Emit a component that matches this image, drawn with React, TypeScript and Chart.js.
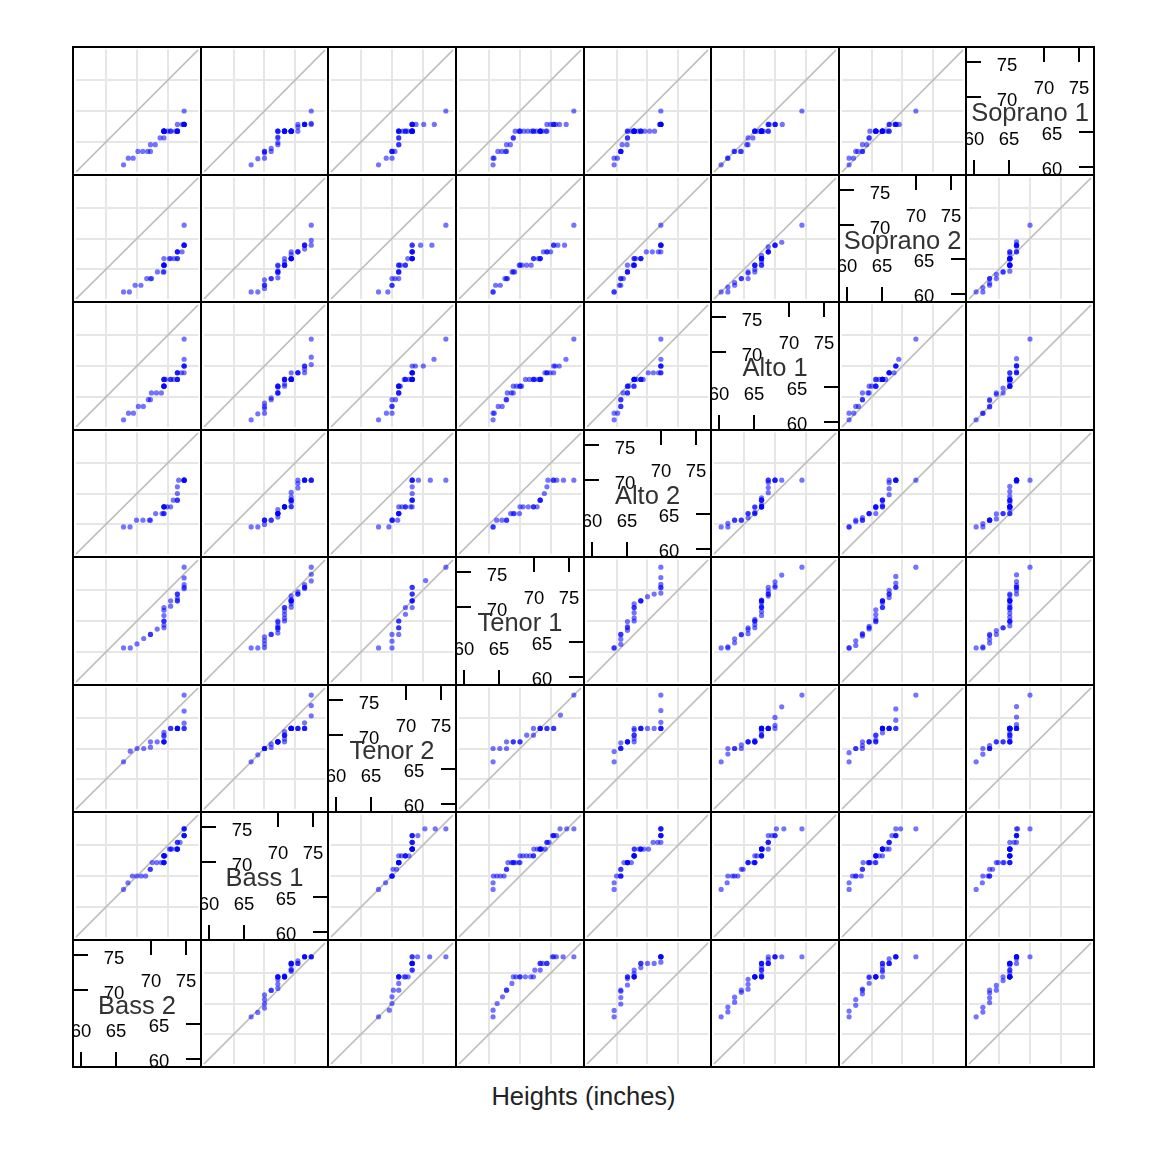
import React, { useEffect, useRef } from "react";
import { Chart, registerables } from "chart.js";

Chart.register(...registerables);

// ---- Data (sorted heights in inches, per voice part) ----
const VOICE_PARTS = ["Bass 2", "Bass 1", "Tenor 2", "Tenor 1", "Alto 2", "Alto 1", "Soprano 2", "Soprano 1"];

const BASS_2 = [66, 67, 68, 69, 70, 70, 71, 72, 72, 72, 72, 72, 72, 72, 73, 73, 74, 74, 74, 74, 74, 75, 75, 75, 75, 75];
const BASS_1 = [66, 67, 68, 68, 68, 68, 69, 69, 70, 70, 70, 70, 70, 70, 70, 71, 71, 71, 71, 71, 71, 72, 72, 72, 72, 72, 72, 72, 72, 73, 73, 73, 74, 74, 74, 74, 75, 75, 75];
const TENOR_2 = [66, 68, 68, 68, 69, 69, 69, 69, 69, 70, 70, 71, 71, 71, 71, 71, 71, 71, 71, 73, 76];
const TENOR_1 = [64, 64, 65, 66, 66, 67, 67, 68, 68, 69, 70, 70, 71, 71, 71, 72, 72, 73, 73, 74, 76];
const ALTO_2 = [63, 63, 64, 64, 64, 64, 65, 65, 65, 65, 66, 66, 66, 66, 66, 66, 67, 67, 67, 68, 69, 70, 70, 70, 70, 70, 70];
const ALTO_1 = [60, 61, 61, 62, 62, 63, 63, 64, 64, 64, 65, 65, 65, 65, 65, 66, 66, 66, 66, 66, 66, 66, 66, 66, 66, 67, 67, 67, 67, 67, 68, 68, 68, 69, 72];
const SOPRANO_2 = [60, 60, 61, 61, 62, 62, 62, 63, 63, 63, 64, 64, 64, 64, 64, 65, 65, 65, 65, 65, 65, 66, 66, 66, 66, 67, 67, 67, 67, 70];
const SOPRANO_1 = [60, 61, 61, 62, 62, 62, 62, 63, 63, 64, 64, 65, 65, 65, 65, 65, 65, 65, 65, 65, 65, 65, 65, 65, 65, 65, 65, 65, 66, 66, 66, 66, 66, 66, 66, 68];

const HEIGHTS = [BASS_2, BASS_1, TENOR_2, TENOR_1, ALTO_2, ALTO_1, SOPRANO_2, SOPRANO_1];

const LOWER_TICKS = [60, 65];
const UPPER_TICKS = [70, 75];
const X_LABEL = "Heights (inches)";

// ---- Derived scale limits (lattice-style 7% extension) ----
const ALL = HEIGHTS.flat();
const DMIN = Math.min(...ALL);
const DMAX = Math.max(...ALL);
const EXT = (DMAX - DMIN) * 0.07;
const LIM_MIN = DMIN - EXT;
const LIM_MAX = DMAX + EXT;
const GRID_VALUES = [1, 2, 3].map((k) => LIM_MIN + (k * (LIM_MAX - LIM_MIN)) / 4);

// ---- Styling / layout ----
const FONT = "'Liberation Sans', Arial, Helvetica, sans-serif";
const N = VOICE_PARTS.length;
const X0 = 73;
const Y0 = 47;
const STEP_X = 127.625;
const STEP_Y = 127.5;
const xEdge = (c: number) => Math.round(X0 + c * STEP_X);
const yEdge = (r: number) => Math.round(Y0 + r * STEP_Y);

function quantile(sorted: number[], p: number) {
  const n = sorted.length;
  const h = (n - 1) * p;
  const lo = Math.floor(h);
  const hi = Math.min(lo + 1, n - 1);
  return sorted[lo] + (h - lo) * (sorted[hi] - sorted[lo]);
}

function qqPairs(xs: number[], ys: number[]) {
  const n = Math.max(xs.length, ys.length);
  const out: { x: number; y: number }[] = [];
  for (let i = 0; i < n; i++) {
    const p = i / (n - 1);
    out.push({ x: quantile(xs, p), y: quantile(ys, p) });
  }
  return out;
}

const borderPlugin = {
  id: "panelBorder",
  afterDraw(chart: any) {
    const { ctx, width, height } = chart;
    ctx.save();
    ctx.strokeStyle = "#000";
    ctx.lineWidth = 1;
    ctx.strokeRect(0.5, 0.5, width - 1, height - 1);
    ctx.restore();
  },
};

const TICK_LEN = 15;

function makeDiagPlugin(name: string) {
  return {
    id: "diagPanel",
    afterDraw(chart: any) {
      const { ctx, width: w, height: h } = chart;
      const xs = chart.scales.x;
      const ys = chart.scales.y;
      ctx.save();
      ctx.strokeStyle = "#000";
      ctx.lineWidth = 2;
      ctx.fillStyle = "#000";
      ctx.font = `18.5px ${FONT}`;
      ctx.textAlign = "center";
      ctx.textBaseline = "middle";
      // top: upper ticks
      UPPER_TICKS.forEach((v) => {
        const x = Math.round(xs.getPixelForValue(v));
        ctx.beginPath();
        ctx.moveTo(x, 0);
        ctx.lineTo(x, TICK_LEN);
        ctx.stroke();
        ctx.fillText(String(v), x, 42);
      });
      // bottom: lower ticks
      LOWER_TICKS.forEach((v) => {
        const x = Math.round(xs.getPixelForValue(v));
        ctx.beginPath();
        ctx.moveTo(x, h);
        ctx.lineTo(x, h - TICK_LEN);
        ctx.stroke();
        ctx.fillText(String(v), x, h - 35);
      });
      // left: upper ticks
      UPPER_TICKS.forEach((v) => {
        const y = Math.round(ys.getPixelForValue(v));
        ctx.beginPath();
        ctx.moveTo(0, y);
        ctx.lineTo(TICK_LEN, y);
        ctx.stroke();
        ctx.fillText(String(v), 41, y + 4);
      });
      // right: lower ticks
      LOWER_TICKS.forEach((v) => {
        const y = Math.round(ys.getPixelForValue(v));
        ctx.beginPath();
        ctx.moveTo(w, y);
        ctx.lineTo(w - TICK_LEN, y);
        ctx.stroke();
        ctx.fillText(String(v), w - 42, y + 3);
      });
      ctx.fillStyle = "#333";
      ctx.font = `25.5px ${FONT}`;
      ctx.fillText(name, w / 2, h / 2 + 3);
      ctx.restore();
    },
  };
}

function Panel({ row, col }: { row: number; col: number }) {
  const ref = useRef<HTMLCanvasElement>(null);
  const left = xEdge(col);
  const top = yEdge(row);
  const width = xEdge(col + 1) - left;
  const height = yEdge(row + 1) - top;

  useEffect(() => {
    const canvas = ref.current;
    if (!canvas) return;
    const xi = col;
    const yi = N - 1 - row;
    const diag = xi === yi;

    const axis = (isDiag: boolean) => ({
      type: "linear" as const,
      min: LIM_MIN,
      max: LIM_MAX,
      afterBuildTicks: (s: any) => {
        s.ticks = GRID_VALUES.map((v) => ({ value: v }));
      },
      ticks: { display: false },
      grid: { display: !isDiag, color: "#e6e6e6", lineWidth: 2, drawTicks: false },
      border: { display: false },
      title: { display: false },
    });

    const datasets: any[] = diag
      ? []
      : [
          {
            type: "scatter",
            data: qqPairs(HEIGHTS[xi], HEIGHTS[yi]),
            pointRadius: 2.6,
            pointHoverRadius: 2.6,
            pointBackgroundColor: "rgba(0,0,255,0.55)",
            pointBorderWidth: 0,
            pointBorderColor: "rgba(0,0,0,0)",
            showLine: false,
          },
          {
            type: "line",
            data: [
              { x: LIM_MIN, y: LIM_MIN },
              { x: LIM_MAX, y: LIM_MAX },
            ],
            borderColor: "#bdbdbd",
            borderWidth: 1.5,
            pointRadius: 0,
            fill: false,
          },
        ];

    const chart = new Chart(canvas, {
      type: "scatter",
      data: { datasets },
      options: {
        responsive: false,
        maintainAspectRatio: false,
        animation: false,
        events: [],
        layout: { padding: 0 },
        plugins: { legend: { display: false }, tooltip: { enabled: false } },
        scales: { x: axis(diag), y: axis(diag) },
      },
      plugins: diag ? [makeDiagPlugin(VOICE_PARTS[xi]), borderPlugin] : [borderPlugin],
    } as any);
    return () => chart.destroy();
  }, [row, col]);

  return (
    <canvas
      ref={ref}
      width={width}
      height={height}
      style={{ position: "absolute", left: left - 8, top: top - 8, width, height, display: "block" }}
    />
  );
}

export default function App() {
  const panels: React.ReactNode[] = [];
  for (let r = 0; r < N; r++) {
    for (let c = 0; c < N; c++) {
      panels.push(<Panel key={`${r}-${c}`} row={r} col={c} />);
    }
  }
  const gridLeft = xEdge(0);
  const gridTop = yEdge(0);
  const gridRight = xEdge(N);
  const gridBottom = yEdge(N);
  return (
    <div style={{ position: "relative", width: 1144, height: 1136, background: "#fff" }}>
      <div
        style={{
          position: "absolute",
          left: gridLeft - 1 - 8,
          top: gridTop - 1 - 8,
          width: gridRight - gridLeft + 2,
          height: gridBottom - gridTop + 2,
          border: "1px solid #000",
          boxSizing: "border-box",
        }}
      />
      {panels}
      <div
        style={{
          position: "absolute",
          left: gridLeft - 8,
          width: gridRight - gridLeft,
          top: 1096 - 15 - 8,
          height: 30,
          lineHeight: "30px",
          textAlign: "center",
          fontFamily: FONT,
          fontSize: 25.5,
          color: "#222",
        }}
      >
        {X_LABEL}
      </div>
    </div>
  );
}
